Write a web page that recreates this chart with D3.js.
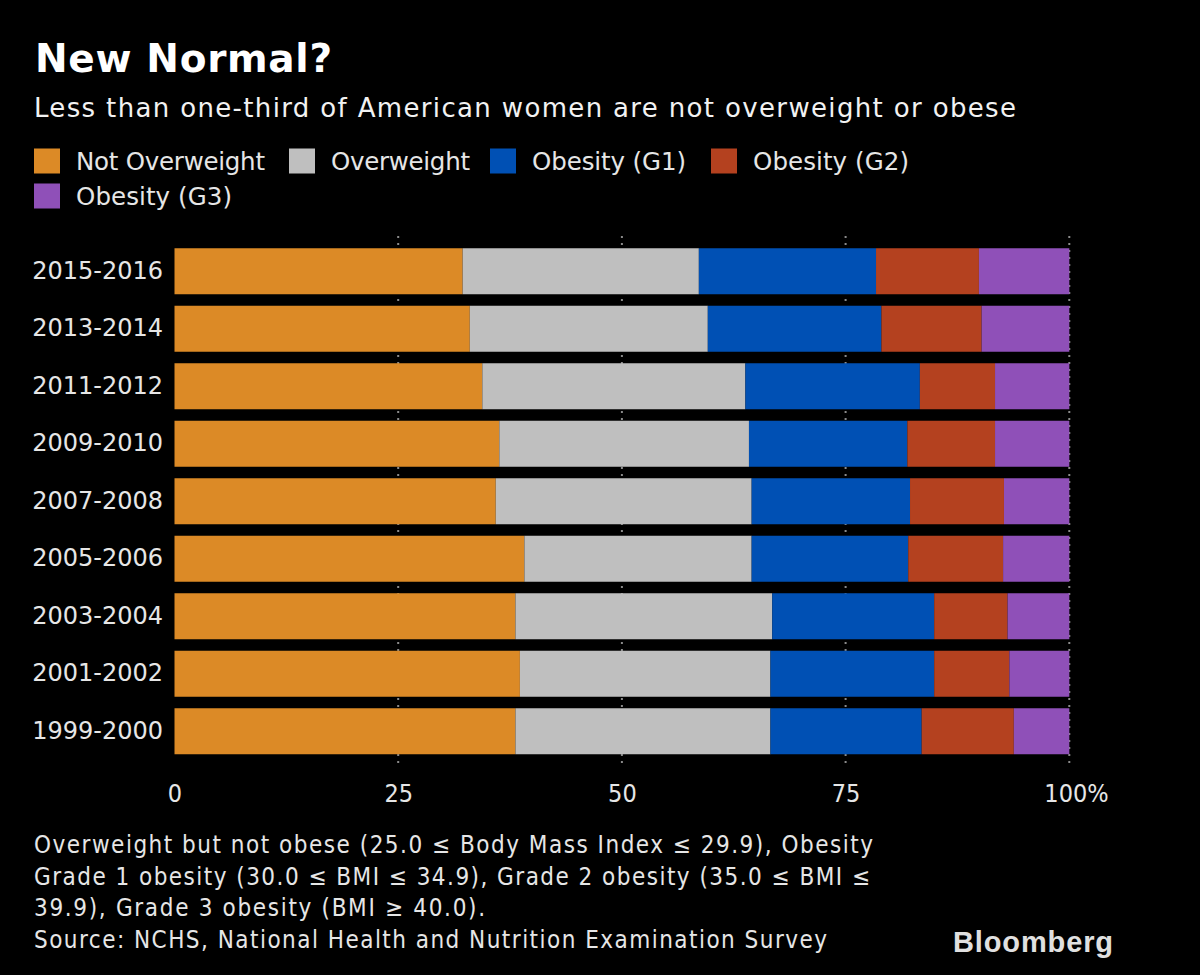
<!DOCTYPE html>
<html>
<head>
<meta charset="utf-8">
<script src="https://cdn.jsdelivr.net/npm/d3@7"></script>
<style>
  html, body { margin: 0; padding: 0; background: #000; }
  svg { display: block; }
</style>
</head>
<body>
<svg id="chart" width="1200" height="975"></svg>
<script>
// ---- data ----
const categories = ["2015-2016","2013-2014","2011-2012","2009-2010","2007-2008","2005-2006","2003-2004","2001-2002","1999-2000"];
const seriesNames = ["Not Overweight","Overweight","Obesity (G1)","Obesity (G2)","Obesity (G3)"];
const notOverweight = [32.2, 33.0, 34.4, 36.3, 35.9, 39.1, 38.1, 38.6, 38.1];
const overweight    = [26.4, 26.6, 29.4, 27.9, 28.6, 25.4, 28.7, 28.0, 28.5];
const obesityG1     = [19.8, 19.4, 19.5, 17.7, 17.7, 17.5, 18.1, 18.3, 16.9];
const obesityG2     = [11.5, 11.2,  8.4,  9.8, 10.5, 10.6,  8.2,  8.4, 10.3];
const obesityG3     = [10.1,  9.8,  8.3,  8.3,  7.3,  7.4,  6.9,  6.7,  6.2];
const xTicks = [0, 25, 50, 75, 100];
const seriesColors = ["#dc8a26", "#bfbfbf", "#0050b4", "#b4411f", "#8f50b8"];

const title = "New Normal?";
const subtitle = "Less than one-third of American women are not overweight or obese";
const footnotes = [
  "Overweight but not obese (25.0 \u2264 Body Mass Index \u2264 29.9), Obesity",
  "Grade 1 obesity (30.0 \u2264 BMI \u2264 34.9), Grade 2 obesity (35.0 \u2264 BMI \u2264",
  "39.9), Grade 3 obesity (BMI \u2265 40.0).",
  "Source: NCHS, National Health and Nutrition Examination Survey"
];

// ---- build table ----
const seriesArrays = [notOverweight, overweight, obesityG1, obesityG2, obesityG3];
const table = categories.map((c, i) => {
  const row = { cat: c };
  seriesNames.forEach((s, j) => row[s] = seriesArrays[j][i]);
  return row;
});
const stacked = d3.stack().keys(seriesNames)(table);

const svg = d3.select("#chart");
svg.append("rect").attr("width", 1200).attr("height", 975).attr("fill", "#000");

const FONT = "'DejaVu Sans', 'Noto Sans', sans-serif";
const FONT_C = "'DejaVu Sans Condensed', 'DejaVu Sans', sans-serif";
const TXT = "#e6e6e6";

// title & subtitle
svg.append("text").attr("x", 35).attr("y", 72)
  .attr("font-family", FONT).attr("font-weight", "bold").attr("font-size", 39)
  .attr("fill", "#fff").attr("textLength", 297).attr("lengthAdjust", "spacing")
  .text(title);
svg.append("text").attr("x", 34).attr("y", 117)
  .attr("font-family", FONT).attr("font-size", 26)
  .attr("fill", "#f2f2f2").attr("textLength", 982).attr("lengthAdjust", "spacing")
  .text(subtitle);

// legend
const legendItems = [
  { x: 34, y: 161, w: 189 },
  { x: 289, y: 161, w: 139 },
  { x: 490, y: 161, w: 154 },
  { x: 711, y: 161, w: 156 },
  { x: 34, y: 196, w: 156 }
];
const lg = svg.append("g");
seriesNames.forEach((s, i) => {
  const it = legendItems[i];
  lg.append("rect").attr("x", it.x).attr("y", it.y - 12.5).attr("width", 26).attr("height", 25)
    .attr("fill", seriesColors[i]);
  lg.append("text").attr("x", it.x + 42).attr("y", it.y + 9)
    .attr("font-family", FONT).attr("font-size", 24.5).attr("fill", TXT)
    .attr("textLength", it.w).attr("lengthAdjust", "spacing")
    .text(s);
});

// scales
const x = d3.scaleLinear().domain([0, 100]).range([174.5, 1069.3]);
const y = d3.scaleBand().domain(categories).range([242.5, 760]).paddingInner(0.2).paddingOuter(0.1);

// gridlines
svg.append("g").selectAll("line").data(xTicks.filter(d => d > 0)).join("line")
  .attr("x1", d => x(d)).attr("x2", d => x(d))
  .attr("y1", 236).attr("y2", 763)
  .attr("stroke", "#8a8a8a").attr("stroke-width", 2).attr("stroke-dasharray", "2,5");

// bars
svg.append("g").selectAll("g").data(stacked).join("g")
  .attr("fill", (d, i) => seriesColors[i])
  .selectAll("rect").data(d => d).join("rect")
  .attr("x", d => x(d[0]))
  .attr("y", d => y(d.data.cat))
  .attr("width", d => x(d[1]) - x(d[0]))
  .attr("height", y.bandwidth());

// y axis
const yAxis = svg.append("g").attr("transform", "translate(174.5,0)")
  .call(d3.axisLeft(y).tickSize(0).tickPadding(11.5));
yAxis.select(".domain").remove();
yAxis.selectAll("text").attr("font-family", FONT).attr("font-size", 24).attr("fill", TXT);

// x axis
const xAxis = svg.append("g").attr("transform", "translate(0,760)")
  .call(d3.axisBottom(x).tickValues(xTicks).tickSize(0).tickPadding(24)
    .tickFormat(d => d === 100 ? "100%" : d));
xAxis.select(".domain").remove();
xAxis.selectAll("text").attr("font-family", FONT_C).attr("font-stretch", "condensed")
  .attr("font-size", 25).attr("fill", TXT);
// keep the number centred on its tick, with the % sign hanging to the right
xAxis.selectAll(".tick").filter(d => d === 100).select("text").each(function () {
  const t = d3.select(this);
  t.text("100");
  const w = this.getComputedTextLength();
  t.attr("text-anchor", "start").attr("x", -w / 2 - 4).text("100%");
});

// footnotes
const footWidths = [839, 836, 451, 793];
svg.append("g").selectAll("text").data(footnotes).join("text")
  .attr("x", 34).attr("y", (d, i) => 853 + i * 31.7)
  .attr("font-family", FONT_C).attr("font-stretch", "condensed").attr("font-size", 24)
  .attr("fill", TXT)
  .attr("textLength", (d, i) => footWidths[i]).attr("lengthAdjust", "spacing")
  .text(d => d);

// logo
svg.append("text").attr("x", 953).attr("y", 952)
  .attr("font-family", "'Liberation Sans', Arial, sans-serif").attr("font-weight", "bold")
  .attr("font-size", 29).attr("fill", "#e0e0e0")
  .attr("textLength", 160).attr("lengthAdjust", "spacing")
  .text("Bloomberg");
</script>
</body>
</html>
